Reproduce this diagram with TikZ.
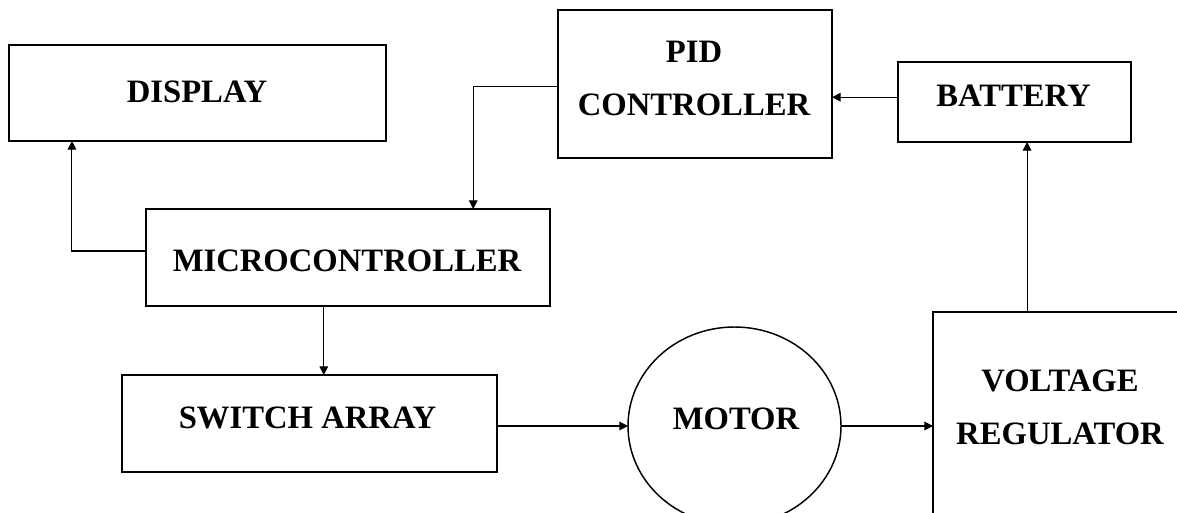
\documentclass[tikz,border=0pt]{standalone}
\usepackage{fontspec}
\setmainfont{Liberation Serif}
\usetikzlibrary{arrows.meta,calc,shapes.geometric}
\begin{document}
\begin{tikzpicture}[x=0.75pt,y=-0.75pt,
  box/.style={draw,line width=1.6pt,rectangle,inner sep=0pt,outer sep=0pt},
  oval/.style={draw,line width=1.1pt,ellipse,inner sep=0pt,outer sep=0pt},
  txt/.style={inner sep=0pt,outer sep=0pt,align=center,font=\bfseries\fontsize{24.5}{39.75}\selectfont},
  conn/.style={line width=0.8pt,-{Triangle[length=6.5pt,width=6.5pt]}}]
\useasboundingbox (0,0) rectangle (1177,513);
\clip (0,0) rectangle (1177,513);
\fill[white] (0,0) rectangle (1177,513);
% boxes
\node[box,minimum width=282.75pt,minimum height=72pt] (disp) at (197.5,93) {};
\node[box,minimum width=205.5pt,minimum height=111pt] (pid) at (695,84) {};
\node[box,minimum width=174.75pt,minimum height=60pt] (bat) at (1014.5,102) {};
\node[box,minimum width=303pt,minimum height=72.75pt] (micro) at (348,257.5) {};
\node[box,minimum width=281.25pt,minimum height=72.75pt] (sw) at (309.5,423.5) {};
\node[oval,minimum width=159.75pt,minimum height=148.5pt] (mot) at (734.5,426) {};
\node[box,minimum width=190.5pt,minimum height=171pt] (vr) at (1060,426) {};
% texts
\node[txt] (disptxt) at (197,92) {DISPLAY};
\node[txt] (pidtxt) at (694,78.5) {PID\\CONTROLLER};
\node[txt] (battxt) at (1013.5,95.5) {BATTERY};
\node[txt] (microtxt) at (347,261) {MICROCONTROLLER};
\node[txt] (swtxt) at (307.5,418) {SWITCH ARRAY};
\node[txt] (mottxt) at (736,419) {MOTOR};
\node[txt] (vrtxt) at (1060,407) {VOLTAGE\\REGULATOR};
% connectors
\coordinate (p1) at ($(pid.north west)!0.514!(pid.south west)$);
\coordinate (m1) at ($(micro.north west)!0.81!(micro.north east)$);
\draw[conn] (p1) -| (m1);
\coordinate (m2) at ($(micro.north west)!0.433!(micro.south west)$);
\coordinate (d2) at ($(disp.south west)!0.167!(disp.south east)$);
\draw[conn] (m2) -| (d2);
\coordinate (m3) at ($(micro.south west)!0.44!(micro.south east)$);
\draw[conn] (m3) -- (m3 |- sw.north);
\draw[conn] (sw.east |- mot.west) -- (mot.west);
\draw[conn] (mot.east) -- (mot.east -| vr.west);
\coordinate (b6) at ($(bat.south west)!0.554!(bat.south east)$);
\draw[conn] (b6 |- vr.north) -- (b6);
\coordinate (b7) at ($(bat.north west)!0.44!(bat.south west)$);
\draw[conn] (b7) -- (b7 -| pid.east);
\end{tikzpicture}
\end{document}
